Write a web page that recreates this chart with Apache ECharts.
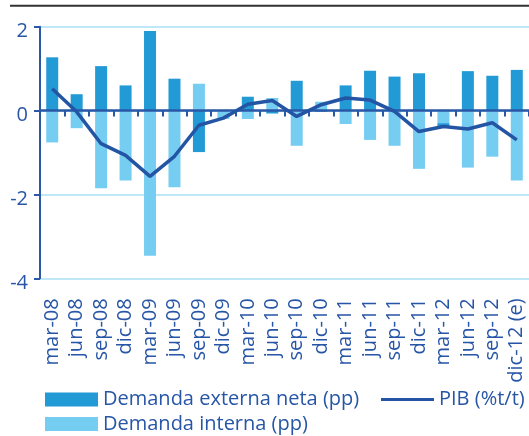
<!DOCTYPE html>
<html>
<head>
<meta charset="utf-8">
<script src="https://cdn.jsdelivr.net/npm/echarts@6/dist/echarts.min.js"></script>
<style>
html,body{margin:0;padding:0;background:#fff;}
#c{width:529px;height:436px;}
</style>
</head>
<body>
<div id="c"></div>
<script>
const categories = ['mar-08','jun-08','sep-08','dic-08','mar-09','jun-09','sep-09','dic-09','mar-10','jun-10','sep-10','dic-10','mar-11','jun-11','sep-11','dic-11','mar-12','jun-12','sep-12','dic-12 (e)'];
const externa = [1.27, 0.39, 1.06, 0.6, 1.9, 0.76, -0.99, 0, 0.33, -0.07, 0.71, -0.03, 0.6, 0.95, 0.81, 0.89, -0.07, 0.94, 0.83, 0.97];
const interna = [-0.76, -0.42, -1.85, -1.67, -3.46, -1.83, 0.64, -0.2, -0.2, 0.3, -0.84, 0.21, -0.32, -0.7, -0.84, -1.39, -0.3, -1.36, -1.1, -1.67];
const pib = [0.52, -0.03, -0.79, -1.07, -1.57, -1.09, -0.35, -0.18, 0.15, 0.24, -0.14, 0.14, 0.3, 0.25, -0.02, -0.5, -0.38, -0.44, -0.29, -0.7];
const yTicks = {min: -4, max: 2, interval: 2};

const FONT = 'Open Sans';
const TXT = '#2756a6';
const AX = '#2a58a6';
const DARK = '#229ad6';
const LIGHT = '#76cdf2';
const LINE = '#2455a4';
const GRIDC = '#a9e1f6';

const chart = echarts.init(document.getElementById('c'), null, {renderer: 'canvas'});
chart.setOption({
  animation: false,
  backgroundColor: '#fff',
  textStyle: {fontFamily: FONT},
  grid: {left: 40, right: 0, top: 26.7, bottom: 436 - 278.3, containLabel: false},
  graphic: [{
    type: 'line', shape: {x1: 10, y1: 5.7, x2: 529, y2: 5.7},
    style: {stroke: '#333', lineWidth: 2}
  }],
  legend: [{
    left: 45, top: 389.5, padding: 0, itemWidth: 53, itemHeight: 14,
    textStyle: {fontFamily: FONT, fontSize: 20, color: TXT},
    data: [{name: 'Demanda externa neta (pp)', icon: 'rect'}]
  }, {
    left: 381, top: 389.5, padding: 0, itemWidth: 53, itemHeight: 3,
    textStyle: {fontFamily: FONT, fontSize: 20, color: TXT},
    data: [{name: 'PIB (%t/t)', icon: 'rect'}]
  }, {
    left: 45, top: 414, padding: 0, itemWidth: 53, itemHeight: 14,
    textStyle: {fontFamily: FONT, fontSize: 20, color: TXT},
    data: [{name: 'Demanda interna (pp)', icon: 'rect'}]
  }],
  xAxis: [{
    type: 'category', data: categories, boundaryGap: true, z: 3,
    axisLine: {show: true, onZero: true, lineStyle: {color: AX, width: 2.5}},
    axisTick: {show: true, length: 6, interval: 0, lineStyle: {color: AX, width: 2}},
    axisLabel: {show: false}, splitLine: {show: false}
  }, {
    type: 'category', data: categories, position: 'bottom', boundaryGap: true,
    axisLine: {show: false, onZero: false}, axisTick: {show: false},
    axisLabel: {show: true, rotate: 90, interval: 0, margin: 20, fontFamily: FONT, fontSize: 20, color: TXT}
  }],
  yAxis: {
    type: 'value', min: yTicks.min, max: yTicks.max, interval: yTicks.interval,
    axisLine: {show: true, lineStyle: {color: AX, width: 2}},
    axisTick: {show: true, length: 6, lineStyle: {color: AX, width: 2}},
    axisLabel: {margin: 12, fontFamily: FONT, fontSize: 20, color: TXT, verticalAlign: 'top', lineHeight: 9},
    splitLine: {show: true, lineStyle: {color: GRIDC, width: 1.5}}
  },
  series: [{
    name: 'Demanda interna (pp)', type: 'bar', stack: 'd', data: interna, barWidth: 12,
    itemStyle: {color: LIGHT}, xAxisIndex: 0
  }, {
    name: 'Demanda externa neta (pp)', type: 'bar', stack: 'd', data: externa, barWidth: 12,
    itemStyle: {color: DARK}, xAxisIndex: 0
  }, {
    name: 'PIB (%t/t)', type: 'line', data: pib, symbol: 'none', z: 5,
    lineStyle: {color: LINE, width: 3.5}, itemStyle: {color: LINE}, xAxisIndex: 0
  }]
});
</script>
</body>
</html>
